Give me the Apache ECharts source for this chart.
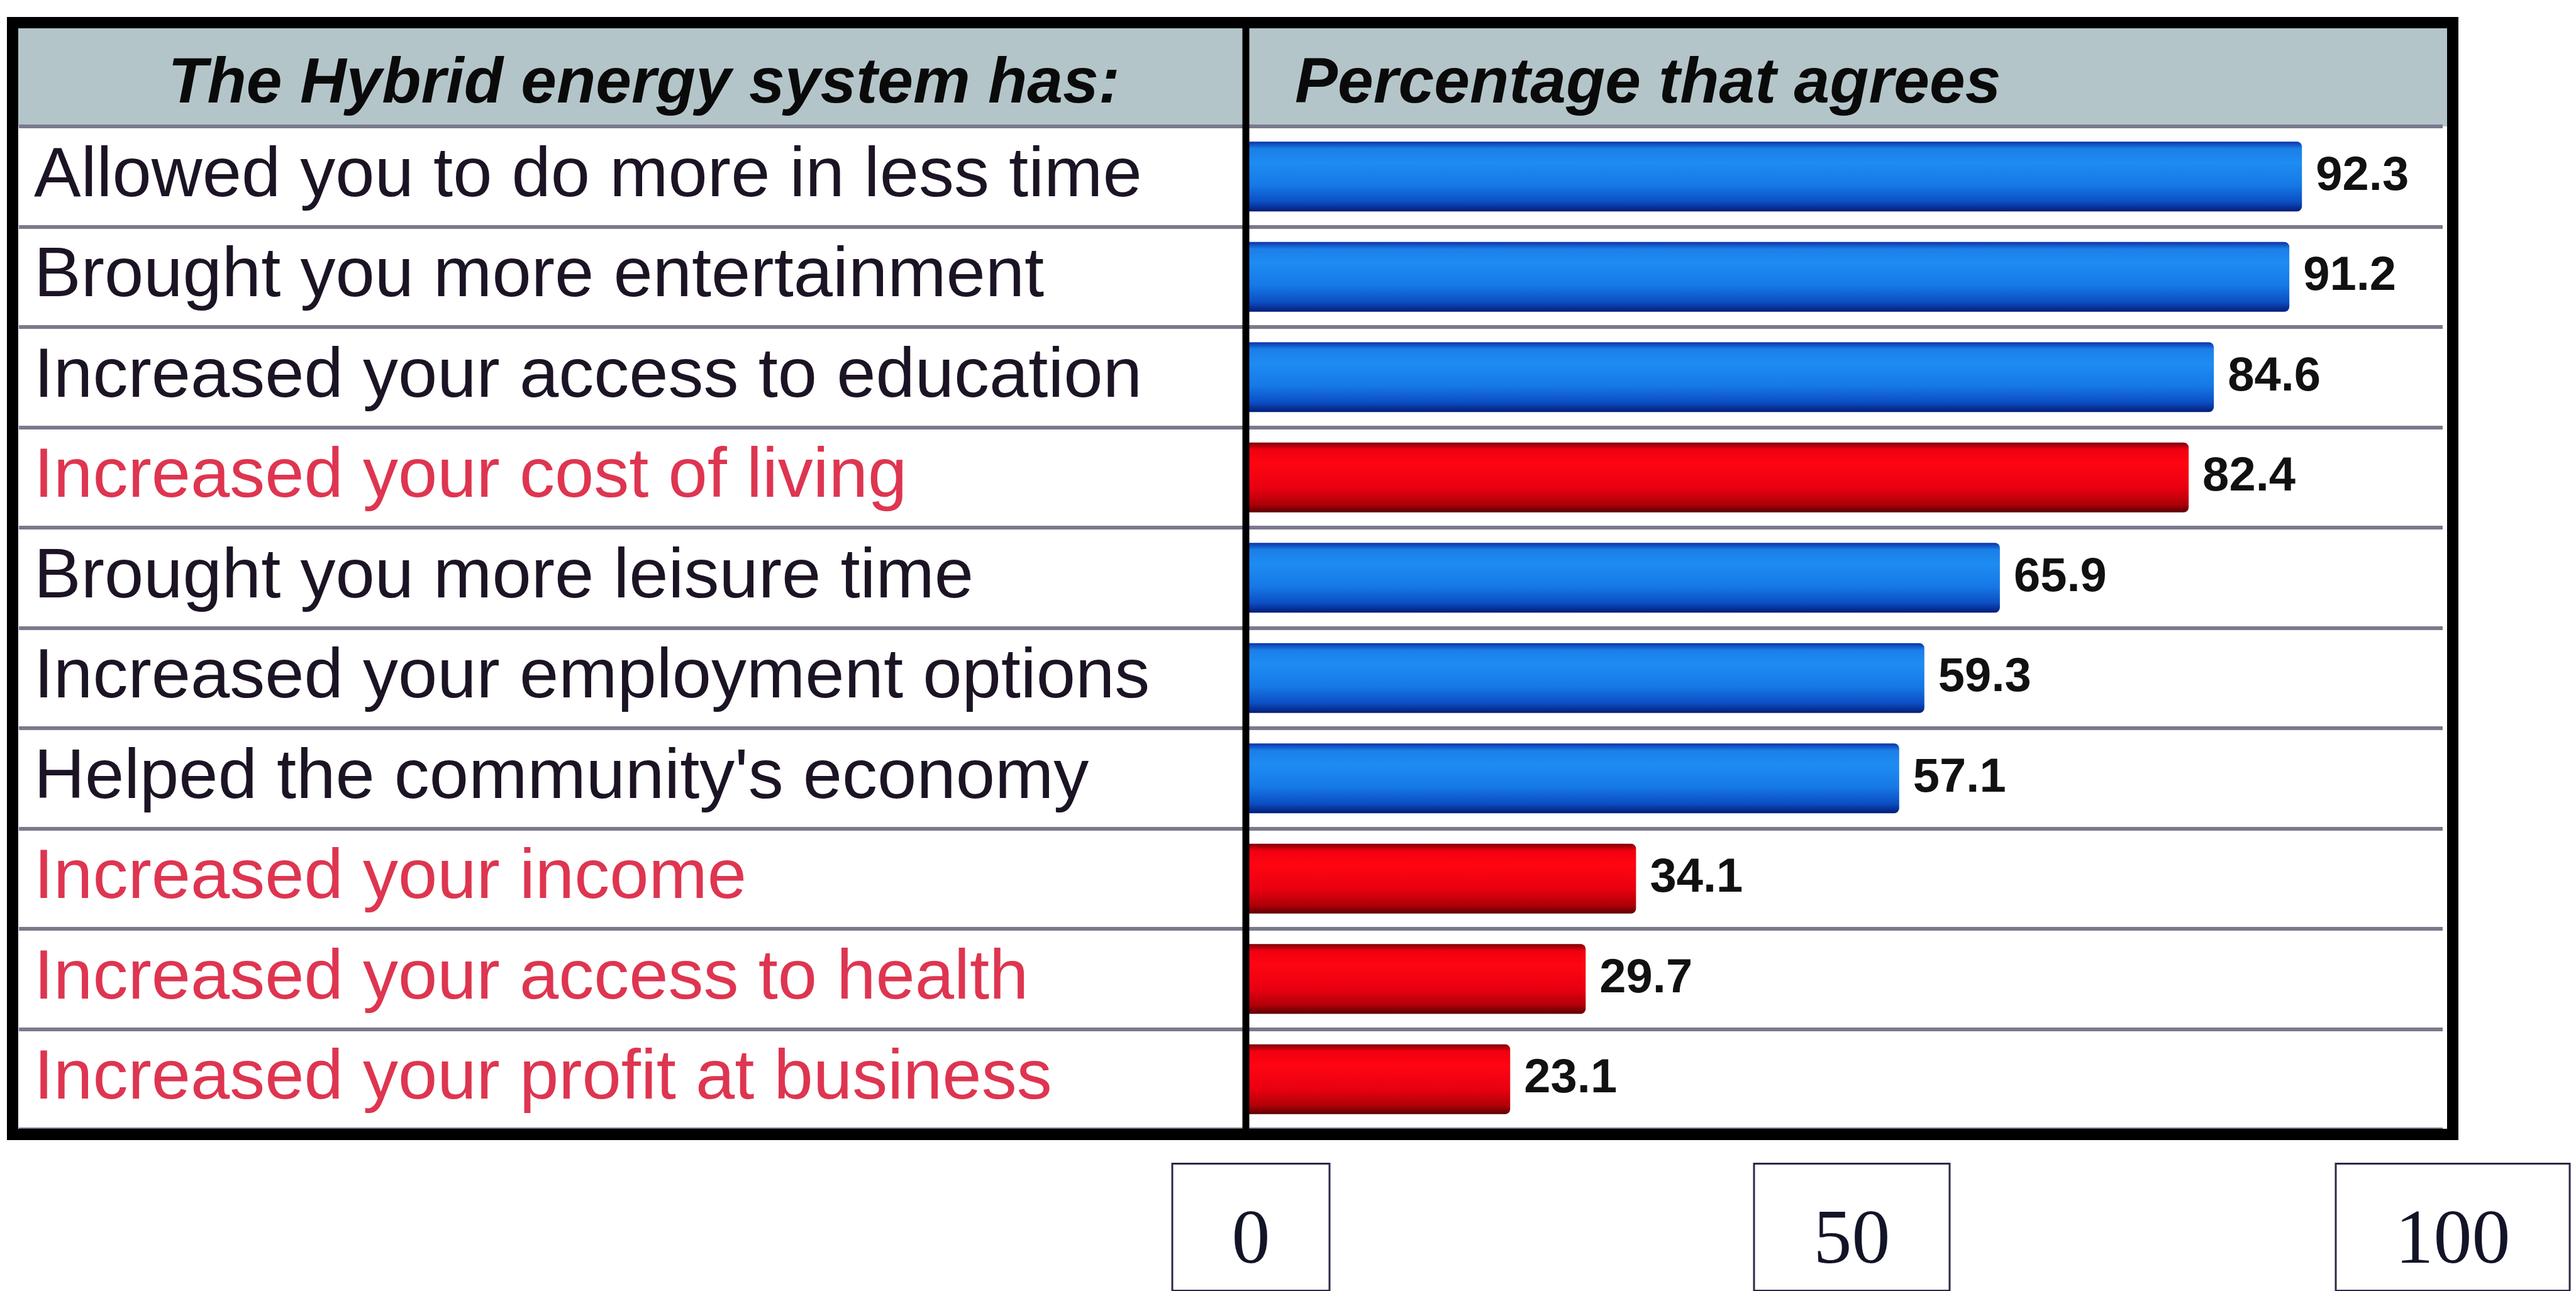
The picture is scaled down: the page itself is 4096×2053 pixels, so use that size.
<!DOCTYPE html>
<html>
<head>
<meta charset="utf-8">
<title>Hybrid energy system – percentage that agrees</title>
<script src="https://cdn.jsdelivr.net/npm/echarts@6/dist/echarts.min.js"></script>
<style>
  html, body { margin: 0; padding: 0; background: #ffffff; }
  #chart { width: 4096px; height: 2053px; }
</style>
</head>
<body>
<div id="chart"></div>
<script>
// Survey statements (top to bottom) and the share of respondents that agree
const categories = [
  'Allowed you to do more in less time',
  'Brought you more entertainment',
  'Increased your access to education',
  'Increased your cost of living',
  'Brought you more leisure time',
  'Increased your employment options',
  "Helped the community's economy",
  'Increased your income',
  'Increased your access to health',
  'Increased your profit at business'
];
const agreeValues = [92.3, 91.2, 84.6, 82.4, 65.9, 59.3, 57.1, 34.1, 29.7, 23.1];
const rowTone = ['blue', 'blue', 'blue', 'red', 'blue', 'blue', 'blue', 'red', 'red', 'red'];
const tickValues = [0, 50, 100];
const headerLabels = ['The Hybrid energy system has:', 'Percentage that agrees'];

const SANS = '"Liberation Sans", Arial, Helvetica, sans-serif';
const SERIF = '"Liberation Serif", "Times New Roman", serif';
const GRID_LINE = '#7a7a8c';
const LABEL_COLORS = { blue: '#1c1424', red: '#de3550' };

const gradients = {
  blue: new echarts.graphic.LinearGradient(0, 0, 0, 1, [
    { offset: 0, color: '#0b33a8' },
    { offset: 0.1, color: '#1b7fe8' },
    { offset: 0.3, color: '#1e8cf2' },
    { offset: 0.62, color: '#1679e6' },
    { offset: 0.86, color: '#0c4fc4' },
    { offset: 1, color: '#041c78' }
  ]),
  red: new echarts.graphic.LinearGradient(0, 0, 0, 1, [
    { offset: 0, color: '#7c0006' },
    { offset: 0.1, color: '#f00010' },
    { offset: 0.3, color: '#ff0512' },
    { offset: 0.65, color: '#e80010' },
    { offset: 0.88, color: '#b00008' },
    { offset: 1, color: '#5a0004' }
  ])
};

const chart = echarts.init(document.getElementById('chart'), null, { renderer: 'canvas' });

const rowSplit = { show: true, lineStyle: { color: GRID_LINE, width: 6 } };

const option = {
  backgroundColor: '#ffffff',
  animation: false,
  grid: [
    // statement column
    { left: 30, top: 201, width: 1951, height: 1595, containLabel: false, outerBoundsMode: 'none' },
    // bar column
    { left: 1981, top: 201, width: 1903, height: 1595, containLabel: false, outerBoundsMode: 'none' },
    // scale boxes under the table
    { left: 1989, top: 1790, width: 1911, height: 10, containLabel: false, outerBoundsMode: 'none' }
  ],
  xAxis: [
    { gridIndex: 0, type: 'value', show: false, min: 0, max: 1 },
    { gridIndex: 1, type: 'value', show: false, min: 0, max: 104.6 },
    {
      gridIndex: 2, type: 'value', position: 'bottom',
      min: tickValues[0], max: tickValues[tickValues.length - 1],
      interval: tickValues[1] - tickValues[0],
      axisLine: { show: false }, axisTick: { show: false }, splitLine: { show: false },
      axisLabel: {
        show: true, margin: 52,
        fontFamily: SERIF, fontSize: 122, lineHeight: 122, color: '#141428',
        padding: [63, 93, 14, 93],
        borderColor: '#2a2a48', borderWidth: 3,
        backgroundColor: '#ffffff',
        showMinLabel: true, showMaxLabel: true
      }
    }
  ],
  yAxis: [
    {
      gridIndex: 0, type: 'category', data: categories, inverse: true,
      axisLine: { show: false }, axisTick: { show: false },
      splitLine: rowSplit,
      axisLabel: {
        show: true, inside: true, margin: 24, align: 'left', interval: 0,
        fontFamily: SANS, fontSize: 112, padding: [16, 0, 0, 0],
        color: function (value, index) { return LABEL_COLORS[rowTone[index]]; }
      }
    },
    {
      gridIndex: 1, type: 'category', data: categories, inverse: true,
      axisLine: { show: false }, axisTick: { show: false }, axisLabel: { show: false },
      splitLine: rowSplit
    },
    { gridIndex: 2, type: 'value', show: false }
  ],
  series: [
    {
      type: 'bar',
      xAxisIndex: 1, yAxisIndex: 1,
      data: agreeValues,
      barWidth: 111,
      itemStyle: {
        color: function (p) { return gradients[rowTone[p.dataIndex]]; },
        borderRadius: [0, 8, 8, 0]
      },
      label: {
        show: true, position: 'right', distance: 22,
        fontFamily: SANS, fontSize: 76, fontWeight: 'bold', color: '#111111',
        formatter: function (p) { return p.value.toFixed(1); }
      }
    }
  ],
  graphic: {
    elements: [
      // header band
      {
        type: 'rect', z: 0,
        shape: { x: 20, y: 36, width: 3880, height: 165 },
        style: { fill: '#b3c5c9' }
      },
      {
        type: 'text', z: 5, x: 1024, y: 135,
        style: {
          text: headerLabels[0], fill: '#0a0a0a',
          font: 'italic bold 102px ' + SANS, align: 'center', verticalAlign: 'middle'
        }
      },
      {
        type: 'text', z: 5, x: 2059, y: 135,
        style: {
          text: headerLabels[1], fill: '#0a0a0a',
          font: 'italic bold 102px ' + SANS, align: 'left', verticalAlign: 'middle'
        }
      },
      // column divider
      {
        type: 'line', z: 100,
        shape: { x1: 1981, y1: 36, x2: 1981, y2: 1804 },
        style: { stroke: '#000000', lineWidth: 11 }
      },
      // table frame
      {
        type: 'rect', z: 101,
        shape: { x: 20, y: 36, width: 3880, height: 1768 },
        style: { fill: null, stroke: '#000000', lineWidth: 18 }
      }
    ]
  }
};

chart.setOption(option);
</script>
</body>
</html>
